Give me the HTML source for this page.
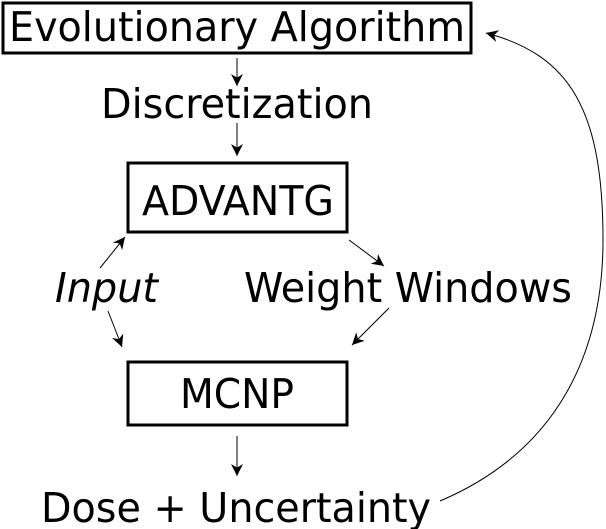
<!DOCTYPE html>
<html><head><meta charset="utf-8"><style>
html,body{margin:0;padding:0;background:#fff;}
svg{display:block;}
text{font-family:"DejaVu Sans Condensed","DejaVu Sans","Liberation Sans",sans-serif;font-size:41px;fill:#000;}
</style></head><body>
<svg width="606" height="529" viewBox="0 0 606 529" xmlns="http://www.w3.org/2000/svg">
<defs>
<marker id="a" viewBox="0 0 10 10" refX="10" refY="5" markerWidth="12" markerHeight="12" markerUnits="userSpaceOnUse" orient="auto">
<path d="M0,0 L10,5 L0,10 L3,5 z" fill="#000"/>
</marker>
</defs>
<rect x="3" y="3" width="468" height="50" fill="none" stroke="#000" stroke-width="3"/>
<text x="237" y="41" text-anchor="middle" textLength="456" lengthAdjust="spacingAndGlyphs">Evolutionary Algorithm</text>
<line x1="237" y1="58" x2="237" y2="86" stroke="#000" stroke-width="1" marker-end="url(#a)"/>
<text x="237" y="118" text-anchor="middle" textLength="272" lengthAdjust="spacingAndGlyphs">Discretization</text>
<line x1="237" y1="123" x2="237" y2="156" stroke="#000" stroke-width="1" marker-end="url(#a)"/>
<rect x="128" y="163" width="219" height="69" fill="none" stroke="#000" stroke-width="3"/>
<text x="238" y="215" text-anchor="middle" textLength="192" lengthAdjust="spacingAndGlyphs">ADVANTG</text>
<text x="55" y="302" font-style="italic" textLength="103" lengthAdjust="spacingAndGlyphs">Input</text>
<text x="244" y="302" textLength="328" lengthAdjust="spacingAndGlyphs">Weight Windows</text>
<line x1="100" y1="268" x2="125" y2="237" stroke="#000" stroke-width="1" marker-end="url(#a)"/>
<line x1="349" y1="240" x2="384" y2="266" stroke="#000" stroke-width="1" marker-end="url(#a)"/>
<line x1="108" y1="311" x2="122" y2="347" stroke="#000" stroke-width="1" marker-end="url(#a)"/>
<line x1="389" y1="308" x2="352" y2="345" stroke="#000" stroke-width="1" marker-end="url(#a)"/>
<rect x="128" y="362" width="219" height="63" fill="none" stroke="#000" stroke-width="3"/>
<text x="237" y="408" text-anchor="middle" textLength="114" lengthAdjust="spacingAndGlyphs">MCNP</text>
<line x1="237" y1="436" x2="237" y2="476" stroke="#000" stroke-width="1" marker-end="url(#a)"/>
<text x="236" y="522" text-anchor="middle" textLength="390" lengthAdjust="spacingAndGlyphs">Dose + Uncertainty</text>
<path d="M440,501 C560,450 603,350 603,240 C603,110 570,55 486,33" fill="none" stroke="#000" stroke-width="1" marker-end="url(#a)"/>
</svg>
</body></html>
